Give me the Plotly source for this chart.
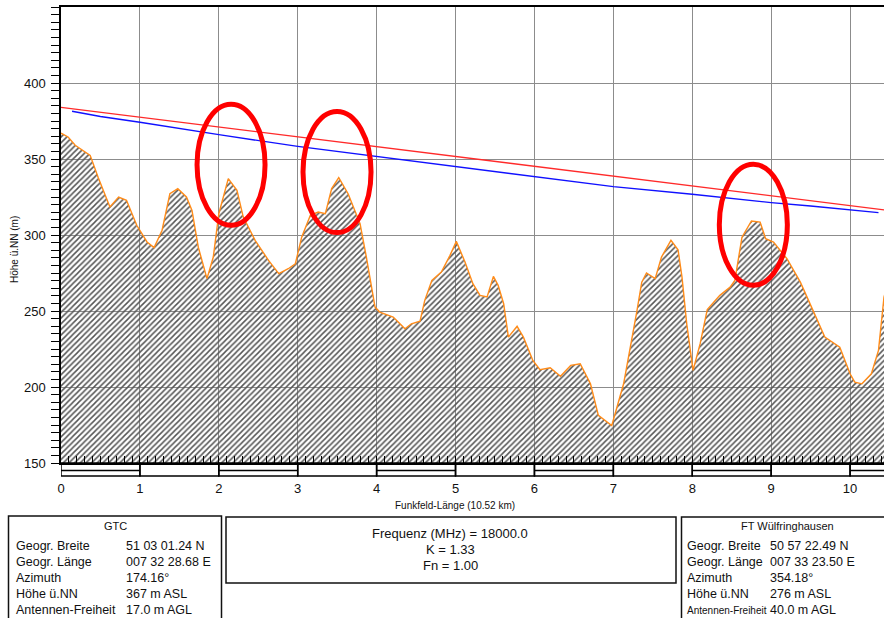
import plotly.graph_objects as go

# ---- terrain profile along the link (distance in km, height in m) ----
dist_km = [0.00, 0.09, 0.18, 0.30, 0.37, 0.47, 0.62, 0.73, 0.83, 0.96,
           1.09, 1.18, 1.28, 1.38, 1.48, 1.59, 1.66, 1.74, 1.85, 1.93,
           2.00, 2.12, 2.23, 2.31, 2.46, 2.63, 2.76, 2.88, 2.97, 3.05,
           3.16, 3.26, 3.35, 3.43, 3.52, 3.64, 3.79, 3.87, 3.98, 4.04,
           4.21, 4.36, 4.44, 4.55, 4.61, 4.70, 4.82, 4.93, 5.01, 5.12,
           5.22, 5.31, 5.40, 5.48, 5.54, 5.61, 5.67, 5.78, 5.86, 5.98,
           6.07, 6.20, 6.33, 6.46, 6.58, 6.71, 6.81, 6.98, 7.13, 7.30,
           7.36, 7.42, 7.53, 7.61, 7.73, 7.82, 7.87, 7.93, 8.01, 8.10,
           8.19, 8.35, 8.48, 8.54, 8.63, 8.75, 8.86, 8.93, 9.03, 9.20,
           9.37, 9.53, 9.68, 9.87, 10.00, 10.06, 10.15, 10.27, 10.36, 10.43,
           10.52]
terrain_m = [367.0, 364.5, 359.0, 354.6, 352.4, 338.0, 318.4, 325.0, 322.8, 306.4,
             295.4, 291.7, 303.0, 327.2, 330.5, 325.0, 316.2, 292.0, 271.3, 285.5,
             314.0, 337.1, 329.4, 311.8, 296.5, 283.3, 274.6, 277.8, 281.1, 298.6,
             313.0, 315.1, 314.0, 330.5, 337.8, 327.0, 307.5, 285.5, 252.6, 249.3,
             246.0, 238.3, 241.6, 243.3, 257.0, 270.1, 275.6, 286.6, 295.8, 282.2,
             268.0, 260.3, 259.2, 272.8, 266.9, 254.8, 232.8, 239.9, 232.8, 217.5,
             211.4, 212.7, 207.1, 214.2, 215.3, 202.1, 181.3, 174.7, 202.1, 250.4,
             269.0, 275.0, 271.3, 285.5, 296.5, 290.3, 272.3, 241.6, 210.9, 228.5,
             250.9, 260.3, 265.7, 270.1, 298.6, 309.2, 308.5, 297.6, 295.4, 284.4,
             269.0, 250.4, 232.8, 226.2, 208.7, 203.2, 202.1, 208.7, 224.1, 259.2,
             276.0]

# line of sight between the antennas (site height + antenna height)
los_km = [0.0, 10.52]
los_m = [384.0, 316.0]

# lower edge of the first Fresnel zone
fresnel_km = [0.14, 0.5, 1, 2, 3, 4, 5, 6, 7, 8, 9, 9.5, 10, 10.36]
fresnel_m = [381.4, 378.0, 374.2, 366.0, 358.3, 351.7, 344.9, 338.3, 331.8,
             326.8, 321.3, 319.1, 316.5, 314.7]

y_tick_vals = [150, 200, 250, 300, 350, 400]
x_tick_vals = list(range(0, 11))

site_rows = ["Geogr. Breite", "Geogr. Länge", "Azimuth", "Höhe ü.NN", "Antennen-Freiheit"]
gtc_values = ["51 03 01.24 N", "007 32 28.68 E", "174.16°", "367 m ASL", "17.0 m AGL"]
ftw_values = ["50 57 22.49 N", "007 33 23.50 E", "354.18°", "276 m ASL", "40.0 m AGL"]
link_params = ["Frequenz (MHz) = 18000.0", "K = 1.33", "Fn = 1.00"]

# ---- page geometry ----
W, H = 884, 618
ML, MT, MB = 61, 7, 155
PLOT_W = W - ML
PLOT_H = H - MT - MB
FONT = "Liberation Sans, Arial, sans-serif"


def pxx(px):
    return (px - ML) / PLOT_W


def pxy(py):
    return (H - MB - py) / PLOT_H


fig = go.Figure()

fig.add_trace(go.Scatter(
    x=dist_km, y=terrain_m, mode="lines",
    line=dict(color="#FF8C1A", width=1.4),
    fill="tozeroy", fillcolor="rgba(0,0,0,0)",
    fillpattern=dict(shape="/", fgcolor="#555555", bgcolor="rgba(0,0,0,0)",
                     size=4, solidity=0.38, fillmode="replace"),
    hoverinfo="skip", showlegend=False,
))
fig.add_trace(go.Scatter(
    x=los_km, y=los_m, mode="lines",
    line=dict(color="#FF2A2A", width=1.3),
    hoverinfo="skip", showlegend=False,
))
fig.add_trace(go.Scatter(
    x=fresnel_km, y=fresnel_m, mode="lines",
    line=dict(color="#1010FF", width=1.4),
    hoverinfo="skip", showlegend=False,
))

shapes = []

# distance scale bar below the x axis: alternating filled/empty km segments
bar_top, bar_mid, bar_bot = pxy(463), pxy(470.5), pxy(476)
for k in x_tick_vals:
    x1 = min(k + 1, los_km[-1])
    shapes.append(dict(type="rect", xref="x", yref="paper", x0=k, x1=x1,
                       y0=bar_bot, y1=bar_top, line=dict(color="black", width=1.5),
                       layer="above"))
    if k % 2 == 0:
        shapes.append(dict(type="line", xref="x", yref="paper", x0=k, x1=x1,
                           y0=bar_mid, y1=bar_mid, line=dict(color="black", width=1.5),
                           layer="above"))

# highlight rings around critical obstacles
rings = [(2.155, 346.2), (3.498, 341.4), (8.774, 306.7)]
for cx, cy in rings:
    shapes.append(dict(type="circle", xref="x", yref="y",
                       x0=cx - 0.431, x1=cx + 0.431, y0=cy - 39.8, y1=cy + 39.8,
                       line=dict(color="#FF0000", width=5), layer="above"))

# info boxes below the chart
box_line = dict(color="#111111", width=1.5)
shapes.append(dict(type="rect", xref="paper", yref="paper",
                   x0=pxx(8.5), x1=pxx(221.5), y0=pxy(640), y1=pxy(516),
                   line=box_line))
shapes.append(dict(type="rect", xref="paper", yref="paper",
                   x0=pxx(226), x1=pxx(676), y0=pxy(583), y1=pxy(517),
                   line=box_line))
shapes.append(dict(type="rect", xref="paper", yref="paper",
                   x0=pxx(681.5), x1=pxx(900), y0=pxy(640), y1=pxy(517),
                   line=box_line))

annotations = []


def label(text, px, py, size=12.5, anchor="left"):
    annotations.append(dict(text=text, xref="paper", yref="paper",
                            x=pxx(px), y=pxy(py), xanchor=anchor, yanchor="middle",
                            showarrow=False, font=dict(family=FONT, size=size, color="#111111")))


label("GTC", 115, 526, size=11, anchor="center")
label("FT Wülfringhausen", 787, 526, size=11, anchor="center")
last = len(site_rows) - 1
for i, row in enumerate(site_rows):
    yy = 546 + 16 * i
    label(row, 14, yy)
    label(gtc_values[i], 124, yy)
    # the right box has a narrower label column, so its longest label is set tighter
    label(row, 685, yy, size=10 if i == last else 12.5)
    label(ftw_values[i], 768, yy)

for i, txt in enumerate(link_params):
    label(txt, 450, 533 + 16 * i, size=13, anchor="center")

# axis titles
label("Funkfeld-Länge (10.52 km)", 455, 505, size=10, anchor="center")
annotations.append(dict(text="Höhe ü.NN (m)", xref="paper", yref="paper",
                        x=pxx(14), y=pxy(250), xanchor="center", yanchor="middle",
                        textangle=-90, showarrow=False,
                        font=dict(family=FONT, size=10, color="#111111")))

fig.update_layout(
    width=W, height=H,
    margin=dict(l=ML, r=0, t=MT, b=MB, pad=0),
    paper_bgcolor="white", plot_bgcolor="white",
    shapes=shapes, annotations=annotations,
    font=dict(family=FONT, color="#111111"),
    showlegend=False,
)

fig.update_xaxes(
    range=[0, 10.43], tickvals=x_tick_vals,
    showgrid=True, gridcolor="#8C8C8C", gridwidth=1.3,
    zeroline=False,
    showline=True, linecolor="black", linewidth=2, mirror=True,
    ticks="inside", ticklen=7, tickwidth=1.2, tickcolor="black",
    minor=dict(tick0=0, dtick=0.1, ticks="inside", ticklen=7, tickwidth=1.2,
               tickcolor="black", showgrid=False),
    tickfont=dict(family=FONT, size=13, color="#111111"),
    ticklabelstandoff=12,
)
fig.update_yaxes(
    range=[150, 450], tickvals=y_tick_vals,
    showgrid=True, gridcolor="#8C8C8C", gridwidth=1.3,
    zeroline=False,
    showline=True, linecolor="black", linewidth=1.5,
    ticks="outside", ticklen=8, tickwidth=1.2, tickcolor="black",
    minor=dict(tick0=0, dtick=5, ticks="outside", ticklen=8, tickwidth=1.2,
               tickcolor="black", showgrid=False),
    tickfont=dict(family=FONT, size=13, color="#111111"),
    ticklabelstandoff=3,
)

fig.write_html("out.html")
